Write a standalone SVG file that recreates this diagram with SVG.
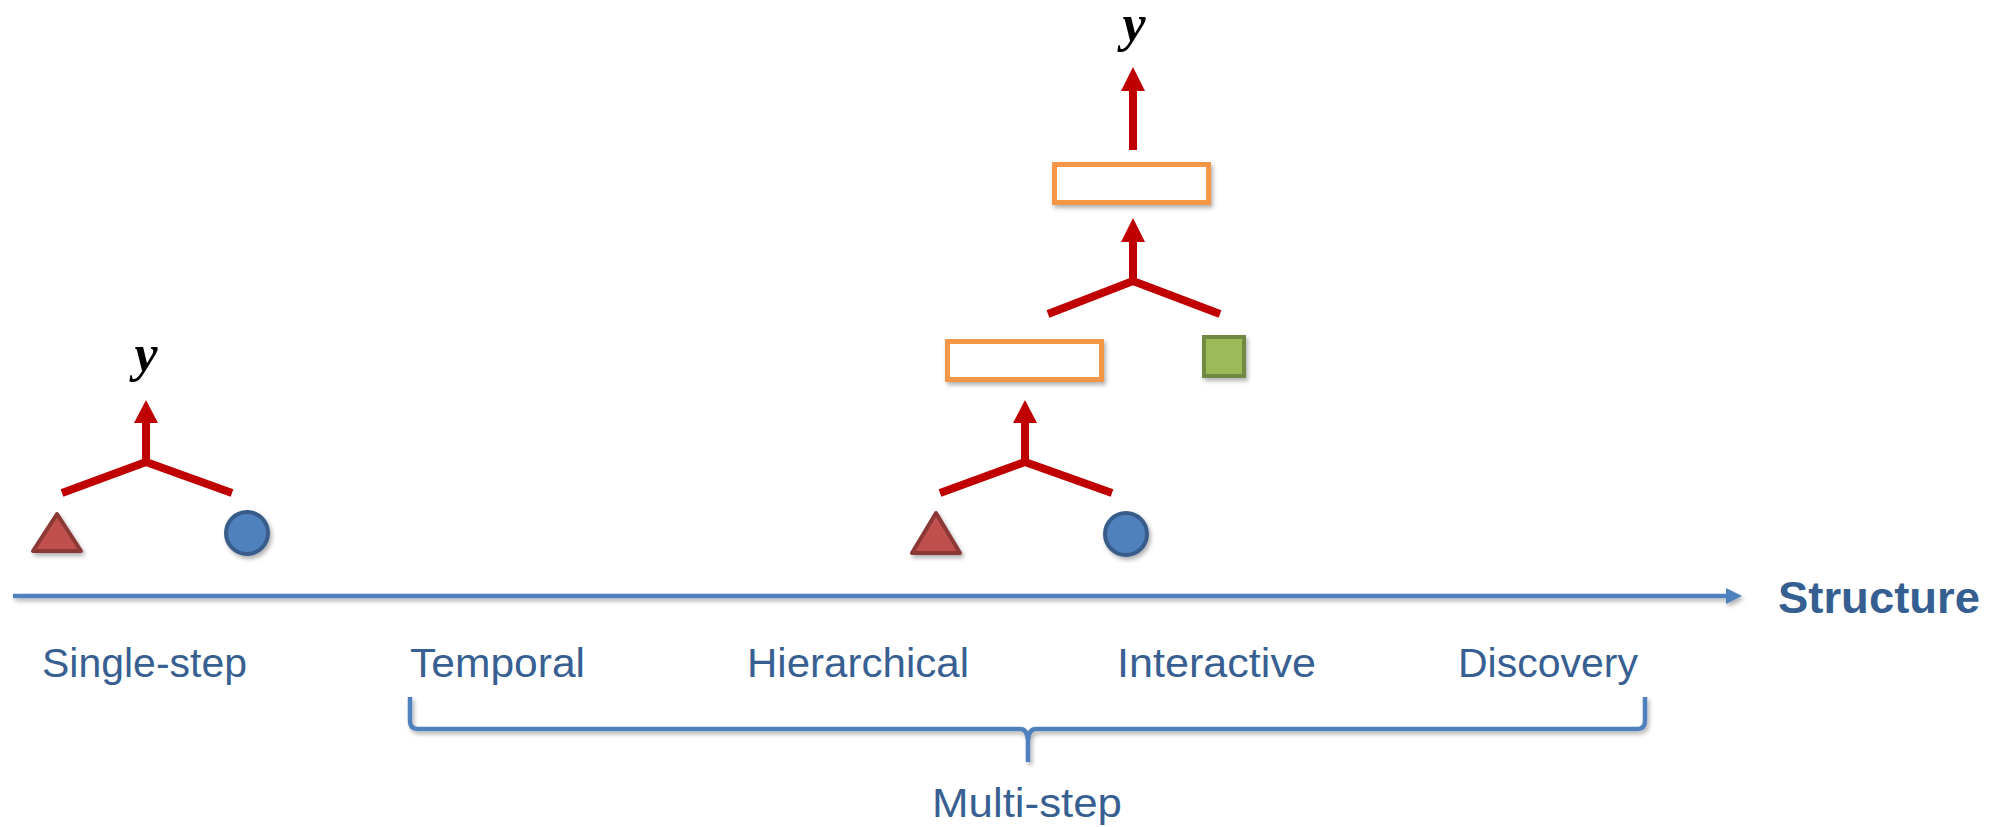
<svg xmlns="http://www.w3.org/2000/svg" width="1997" height="827" viewBox="0 0 1997 827">
<style>
.lbl{font-family:"Liberation Sans",Arial,sans-serif;font-size:41px;fill:#385F92}
.ttl{font-family:"Liberation Sans",Arial,sans-serif;font-size:45px;font-weight:bold;fill:#355E91}
.yv{font-family:"Liberation Serif","Times New Roman",serif;font-size:52px;font-weight:bold;font-style:italic;fill:#000}
.red{stroke:#C00000;stroke-width:8;fill:none}
.head{fill:#C00000}
.tri{fill:#C0504D;stroke:#8C3836;stroke-width:4;stroke-linejoin:round}
.cir{fill:#4F81BD;stroke:#385D8A;stroke-width:4}
.box{fill:#fff;stroke:#F79646;stroke-width:5}
.sq{fill:#9BBB59;stroke:#71893F;stroke-width:4}
.blue{stroke:#4F81BD;stroke-width:4.5;fill:none}
</style>
<defs>
<filter id="sh" x="-30%" y="-30%" width="160%" height="160%">
<feDropShadow dx="2" dy="3" stdDeviation="2" flood-color="#000" flood-opacity="0.3"/>
</filter>
</defs>

<g id="connectors">
<g id="axis" filter="url(#sh)">
<line class="blue" x1="13" y1="596" x2="1730" y2="596"/>
<polygon points="1742,596 1726,588 1726,604" fill="#4F81BD"/>
</g>
<g id="brace" filter="url(#sh)">
<path class="blue" stroke-width="5" d="M410,697 L410,721 Q410,729 418,729 L1020,729 Q1027,729 1028,740 L1028,762 M1028,740 Q1029,729 1036,729 L1637,729 Q1645,729 1645,721 L1645,697"/>
</g>
<g id="merge-left">
<path class="red" d="M62,493 L146,462 L232,493 M146,462 L146,420"/>
<polygon class="head" points="146,400 134,423 158,423"/>
</g>
<g id="merge-mid-1">
<path class="red" d="M940,493 L1025,462 L1112,493 M1025,462 L1025,420"/>
<polygon class="head" points="1025,400 1013,423 1037,423"/>
</g>
<g id="merge-mid-2">
<path class="red" d="M1048,314 L1133,281 L1220,314 M1133,281 L1133,238"/>
<polygon class="head" points="1133,218 1121,242 1145,242"/>
</g>
<g id="arrow-top">
<path class="red" d="M1133,150 L1133,86"/>
<polygon class="head" points="1133,67 1121,91 1145,91"/>
</g>
</g>

<g id="node-triangle-1" filter="url(#sh)"><polygon class="tri" points="57,514 33,551 81,551"/></g>
<g id="node-circle-1" filter="url(#sh)"><circle class="cir" cx="247" cy="533" r="21"/></g>
<g id="node-y-1"><text class="yv" x="146" y="371" text-anchor="middle">y</text></g>

<g id="node-triangle-2" filter="url(#sh)"><polygon class="tri" points="936,513 912,553 960,553"/></g>
<g id="node-circle-2" filter="url(#sh)"><circle class="cir" cx="1126" cy="534" r="21"/></g>
<g id="node-box-1" filter="url(#sh)"><rect class="box" x="947.5" y="341.5" width="154" height="38"/></g>
<g id="node-square" filter="url(#sh)"><rect class="sq" x="1204" y="337" width="40" height="39"/></g>
<g id="node-box-2" filter="url(#sh)"><rect class="box" x="1054.5" y="164.5" width="154" height="38"/></g>
<g id="node-y-2"><text class="yv" x="1134" y="41" text-anchor="middle">y</text></g>

<g id="labels">
<text class="ttl" x="1778" y="613" textLength="202" lengthAdjust="spacingAndGlyphs">Structure</text>
<text class="lbl" x="42" y="677" textLength="205" lengthAdjust="spacingAndGlyphs">Single-step</text>
<text class="lbl" x="410" y="677" textLength="175" lengthAdjust="spacingAndGlyphs">Temporal</text>
<text class="lbl" x="747" y="677" textLength="222" lengthAdjust="spacingAndGlyphs">Hierarchical</text>
<text class="lbl" x="1117" y="677" textLength="199" lengthAdjust="spacingAndGlyphs">Interactive</text>
<text class="lbl" x="1458" y="677" textLength="180" lengthAdjust="spacingAndGlyphs">Discovery</text>
<text class="lbl" x="932" y="817" textLength="190" lengthAdjust="spacingAndGlyphs">Multi-step</text>
</g>
</svg>
